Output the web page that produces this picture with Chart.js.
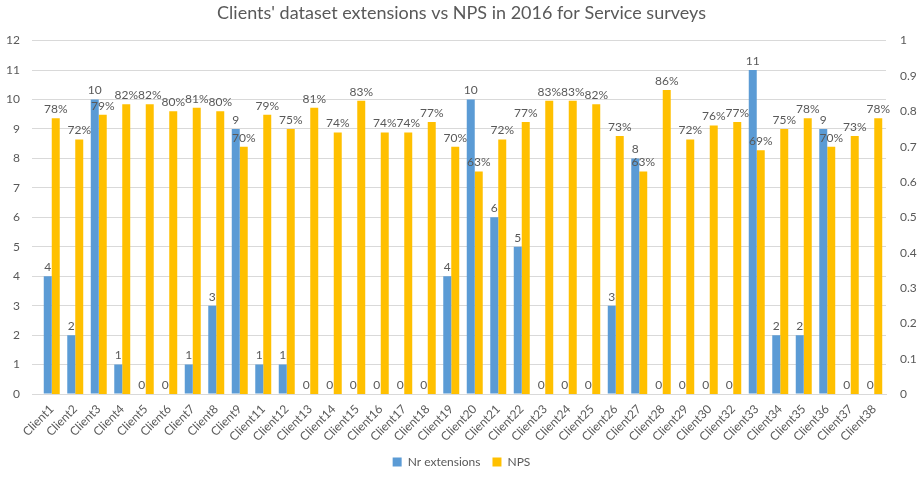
<!DOCTYPE html>
<html>
<head>
<meta charset="utf-8">
<script src="https://cdn.jsdelivr.net/npm/chart.js@4.4.0/dist/chart.umd.min.js"></script>
<style>
  html, body { margin: 0; padding: 0; background: #fff; }
  #wrap { width: 917px; height: 480px; }
</style>
</head>
<body>
<div id="wrap"><canvas id="chart"></canvas></div>
<script>
// chart data
const clients = ['Client1', 'Client2', 'Client3', 'Client4', 'Client5', 'Client6', 'Client7', 'Client8', 'Client9',
  'Client11', 'Client12', 'Client13', 'Client14', 'Client15', 'Client16', 'Client17', 'Client18', 'Client19',
  'Client20', 'Client21', 'Client22', 'Client23', 'Client24', 'Client25', 'Client26', 'Client27', 'Client28',
  'Client29', 'Client30', 'Client32', 'Client33', 'Client34', 'Client35', 'Client36', 'Client37', 'Client38'];
const nrExtensions = [4, 2, 10, 1, 0, 0, 1, 3, 9, 1, 1, 0, 0, 0, 0, 0, 0, 4,
  10, 6, 5, 0, 0, 0, 3, 8, 0, 0, 0, 0, 11, 2, 2, 9, 0, 0];
const nps = [0.78, 0.72, 0.79, 0.82, 0.82, 0.80, 0.81, 0.80, 0.70, 0.79, 0.75, 0.81, 0.74, 0.83, 0.74, 0.74, 0.77, 0.70,
  0.63, 0.72, 0.77, 0.83, 0.83, 0.82, 0.73, 0.63, 0.86, 0.72, 0.76, 0.77, 0.69, 0.75, 0.78, 0.70, 0.73, 0.78];

const textColor = '#595959';
const fontFamily = 'Lato, "Open Sans", sans-serif';

// value labels above each bar, excel style
const barLabels = {
  id: 'barLabels',
  afterDatasetsDraw(chart) {
    const ctx = chart.ctx;
    ctx.save();
    ctx.font = '12px ' + fontFamily;
    ctx.fillStyle = textColor;
    ctx.textAlign = 'center';
    ctx.textBaseline = 'bottom';
    chart.data.datasets.forEach((ds, i) => {
      const meta = chart.getDatasetMeta(i);
      meta.data.forEach((bar, j) => {
        const v = ds.data[j];
        const txt = i === 0 ? String(v) : Math.round(v * 100) + '%';
        ctx.fillText(txt, bar.x, bar.y - 3);
      });
    });
    ctx.restore();
  }
};

new Chart(document.getElementById('chart'), {
  type: 'bar',
  data: {
    labels: clients,
    datasets: [{
      label: 'Nr extensions',
      data: nrExtensions,
      backgroundColor: '#5B9BD5',
      yAxisID: 'y',
      categoryPercentage: 0.68,
      barPercentage: 1.0
    }, {
      label: 'NPS',
      data: nps,
      backgroundColor: '#FFC000',
      yAxisID: 'y1',
      categoryPercentage: 0.68,
      barPercentage: 1.0
    }]
  },
  options: {
    responsive: true,
    maintainAspectRatio: false,
    animation: false,
    layout: { padding: { top: 0, right: 0, bottom: 2, left: 6 } },
    plugins: {
      title: {
        display: true,
        text: "Clients' dataset extensions vs NPS in 2016 for Service surveys",
        color: textColor,
        font: { family: fontFamily, size: 18, weight: 'normal' },
        padding: { top: 2, bottom: 17 }
      },
      legend: {
        position: 'bottom',
        labels: {
          color: textColor,
          font: { family: fontFamily, size: 12 },
          boxWidth: 9,
          boxHeight: 9,
          padding: 12
        }
      },
      tooltip: { enabled: false }
    },
    scales: {
      x: {
        grid: { display: false },
        border: { color: '#d9d9d9' },
        ticks: {
          color: textColor,
          font: { family: fontFamily, size: 12 },
          maxRotation: 45,
          minRotation: 45,
          autoSkip: false,
          padding: 0
        }
      },
      y: {
        position: 'left',
        min: 0,
        max: 12,
        ticks: { stepSize: 1, color: textColor, font: { family: fontFamily, size: 12 }, padding: 12 },
        grid: { color: '#d9d9d9' },
        border: { display: false },
        afterFit(scale) { scale.width = 34; }
      },
      y1: {
        position: 'right',
        min: 0,
        max: 1,
        ticks: {
          stepSize: 0.1,
          color: textColor,
          font: { family: fontFamily, size: 12 },
          padding: 6,
          callback: v => String(Number(v.toFixed(1)))
        },
        grid: { drawOnChartArea: false, display: false },
        border: { display: false },
        afterFit(scale) { scale.width = 31; }
      }
    }
  },
  plugins: [barLabels]
});
</script>
</body>
</html>
